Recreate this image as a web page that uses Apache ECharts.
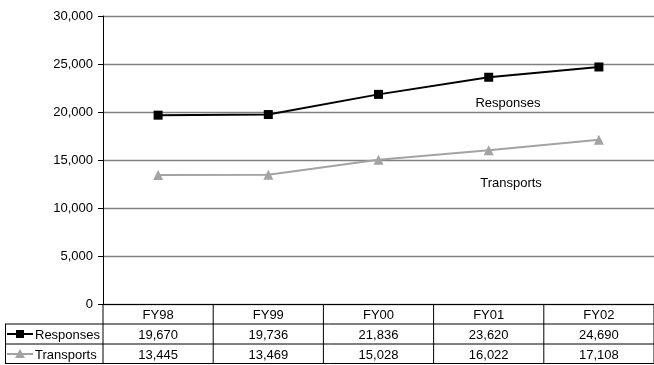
<!DOCTYPE html>
<html>
<head>
<meta charset="utf-8">
<script src="https://cdn.jsdelivr.net/npm/echarts@6/dist/echarts.min.js"></script>
<style>
  html, body { margin: 0; padding: 0; background: #fff; }
  #chart { width: 654px; height: 365px; }
</style>
</head>
<body>
<div id="chart"></div>
<script>
// Fiscal years and yearly totals
const years = ['FY98', 'FY99', 'FY00', 'FY01', 'FY02'];
const responses = [19670, 19736, 21836, 23620, 24690];
const transports = [13445, 13469, 15028, 16022, 17108];
const seriesNames = ['Responses', 'Transports'];
const yMin = 0, yMax = 30000, yStep = 5000;

const FONT = '"Liberation Sans", Arial, sans-serif';
const RESP_COLOR = '#000000';
const TRANS_COLOR = '#a3a3a3';

const fmt = v => v.toLocaleString('en-US');

const chart = echarts.init(document.getElementById('chart'), null, { renderer: 'canvas' });

chart.setOption({
  animation: false,
  backgroundColor: '#ffffff',
  grid: { left: 103, top: 16, width: 555, height: 288, containLabel: false },
  xAxis: {
    type: 'category',
    data: years,
    boundaryGap: true,
    axisLine: { show: true, lineStyle: { color: '#000', width: 1 } },
    axisTick: { show: false },
    axisLabel: { show: false },
    splitLine: { show: false }
  },
  yAxis: {
    type: 'value',
    min: yMin, max: yMax, interval: yStep,
    axisLine: { show: true, lineStyle: { color: '#000', width: 1 } },
    axisTick: { show: true, length: 5, lineStyle: { color: '#000' } },
    axisLabel: { margin: 10, color: '#000', fontFamily: FONT, fontSize: 13, formatter: v => fmt(v) },
    splitLine: { show: true, lineStyle: { color: '#808080', width: 1.3 } }
  },
  series: [
    {
      name: seriesNames[0], type: 'line', data: responses,
      symbol: 'rect', symbolSize: 9,
      lineStyle: { color: RESP_COLOR, width: 2 },
      itemStyle: { color: RESP_COLOR },
      z: 3
    },
    {
      name: seriesNames[1], type: 'line', data: transports,
      symbol: 'triangle', symbolSize: 10,
      lineStyle: { color: TRANS_COLOR, width: 2 },
      itemStyle: { color: TRANS_COLOR },
      z: 2
    }
  ]
});

// Data table under the plot, laid out from the category axis
const centers = years.map(y => chart.convertToPixel({ xAxisIndex: 0 }, y));
const band = centers[1] - centers[0];
const colEdges = [centers[0] - band / 2].concat(centers.map(c => c + band / 2));
const plotLeft = colEdges[0];
const plotRight = colEdges[colEdges.length - 1];
const rowTop = chart.convertToPixel({ yAxisIndex: 0 }, yMin);
const rowH = 20;
const rows = [rowTop, rowTop + rowH, rowTop + 2 * rowH, rowTop + 3 * rowH];
const tableLeft = 5;

const graphics = [];
const line = (x1, y1, x2, y2, color, w) => graphics.push({
  type: 'line', silent: true, z: 10,
  shape: { x1, y1, x2, y2 },
  style: { stroke: color || '#000', lineWidth: w || 1 }
});
const text = (x, y, s, align) => graphics.push({
  type: 'text', silent: true, z: 11, x, y,
  style: { text: s, fill: '#000', font: '13px ' + FONT, textAlign: align || 'center', textVerticalAlign: 'middle' }
});

// horizontal rules
line(tableLeft, rows[1], plotRight, rows[1]);
line(tableLeft, rows[2], plotRight, rows[2]);
line(tableLeft, rows[3] - 0.5, plotRight, rows[3] - 0.5);
// vertical rules
line(tableLeft + 0.5, rows[1], tableLeft + 0.5, rows[3]);
line(plotLeft, rows[0], plotLeft, rows[3]);
colEdges.slice(1).forEach(x => line(x, rows[0], x, rows[3]));

// header and values
years.forEach((y, i) => text(centers[i], (rows[0] + rows[1]) / 2 + 1.5, y));
responses.forEach((v, i) => text(centers[i], (rows[1] + rows[2]) / 2 + 1, fmt(v)));
transports.forEach((v, i) => text(centers[i], (rows[2] + rows[3]) / 2 + 1, fmt(v)));

// legend keys in the row headers
const keyRows = [
  { y: (rows[1] + rows[2]) / 2, color: RESP_COLOR, name: seriesNames[0], shape: 'rect' },
  { y: (rows[2] + rows[3]) / 2, color: TRANS_COLOR, name: seriesNames[1], shape: 'tri' }
];
keyRows.forEach(k => {
  line(7, k.y, 33, k.y, k.color, 2);
  if (k.shape === 'rect') {
    graphics.push({ type: 'rect', silent: true, z: 12, shape: { x: 16, y: k.y - 4, width: 8, height: 8 }, style: { fill: k.color } });
  } else {
    graphics.push({ type: 'polygon', silent: true, z: 12, shape: { points: [[20, k.y - 5], [15, k.y + 4], [25, k.y + 4]] }, style: { fill: k.color } });
  }
  text(35, k.y + 1, k.name, 'left');
});

// in-plot series captions
graphics.push({
  type: 'text', silent: true, z: 11, x: 508, y: 103,
  style: { text: seriesNames[0], fill: '#000', font: '13px ' + FONT, textAlign: 'center', textVerticalAlign: 'middle' }
});
graphics.push({
  type: 'text', silent: true, z: 11, x: 511, y: 183,
  style: { text: seriesNames[1], fill: '#000', font: '13px ' + FONT, textAlign: 'center', textVerticalAlign: 'middle' }
});

chart.setOption({ graphic: graphics });
</script>
</body>
</html>
